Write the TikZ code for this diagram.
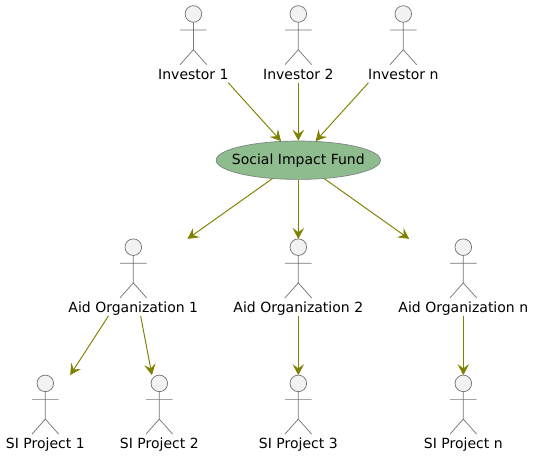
\documentclass[tikz,border=0pt]{standalone}
\usepackage{fontspec}
\setmainfont{DejaVu Sans}
\usepackage{xcolor}
\definecolor{arrowColor}{HTML}{808000}
\definecolor{fundColor}{HTML}{8FBC8F}
\definecolor{stickColor}{HTML}{757575}
\usetikzlibrary{arrows.meta}
\usetikzlibrary{shapes.geometric}

\begin{document}
\begin{tikzpicture}[
    x=0.75pt, y=-0.75pt,
    actor/.style={rectangle, inner sep=0pt, text height=54.8pt, text depth=2.6pt, font=\fontsize{10.5}{12}\selectfont},
    fund/.style={ellipse, draw=stickColor!80!fundColor, line width=0.5pt, fill=fundColor, inner xsep=-6.2pt, inner ysep=0pt, minimum width=121.5pt, minimum height=28.8pt, font=\fontsize{10.5}{12}\selectfont},
    arr/.style={-{Stealth[length=8.2pt, width=8.6pt, inset=3.2pt]}, arrowColor, line width=0.72pt},
    stick/.pic={
        \draw[stickColor, line width=0.55pt, fill=black!5] (0,8.3) circle[radius=8.3];
        \draw[stickColor, line width=0.55pt] (0,16.6) -- (0,44) (-13.3,24.3) -- (13.3,24.3) (-13.3,59) -- (0,44) -- (13.3,59);
    },
]
\useasboundingbox (0,0) rectangle (534,455);

% Investors
\node[actor] (inv1) at (193.4,44.2) {Investor 1};
\node[actor] (inv2) at (298.3,44.2) {Investor 2};
\node[actor] (invn) at (403.3,44.2) {Investor n};

% Fund
\node[fund] (fund) at (298.3,160.2) {Social Impact Fund};

% Aid organizations
\node[actor] (aid1) at (133.3,277.4) {Aid Organization 1};
\node[actor] (aid2) at (298.3,277.4) {Aid Organization 2};
\node[actor] (aidn) at (463.3,277.4) {Aid Organization n};

% Projects
\node[actor] (si1) at (45.3,413.6) {SI Project 1};
\node[actor] (si2) at (159.3,413.6) {SI Project 2};
\node[actor] (si3) at (298.3,413.6) {SI Project 3};
\node[actor] (sin) at (463.3,413.6) {SI Project n};

% Stick figures
\foreach \n in {inv1,inv2,invn,aid1,aid2,aidn,si1,si2,si3,sin}
    \pic at (\n.north) {stick};

% Money in
\draw[arr] (inv1) -- (fund);
\draw[arr] (inv2) -- (fund);
\draw[arr] (invn) -- (fund);

% Money out
\draw[arr] (fund) -- (aid1);
\draw[arr] (fund) -- (aid2);
\draw[arr] (fund) -- (aidn);

% Projects paths
\draw[arr] (aid1) -- (si1);
\draw[arr] (aid1) -- (si2);
\draw[arr] (aid2) -- (si3);
\draw[arr] (aidn) -- (sin);

\end{tikzpicture}
\end{document}
